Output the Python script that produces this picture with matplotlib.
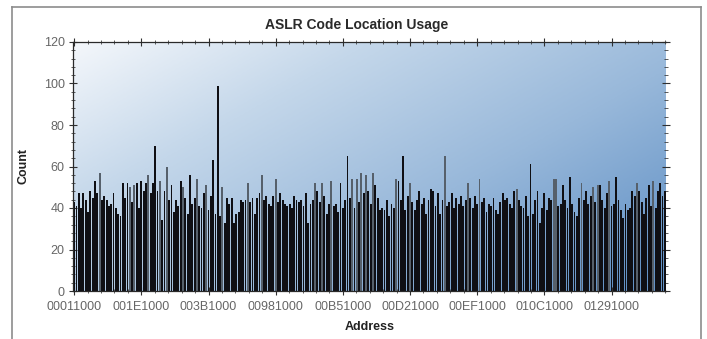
import numpy as np
import matplotlib
matplotlib.use("Agg")
import matplotlib.pyplot as plt
from matplotlib.colors import LinearSegmentedColormap
from matplotlib.lines import Line2D
from matplotlib.ticker import FixedLocator, MultipleLocator

# Hit counts per load address (256 possible 64 KB slots)
counts = [
    43, 41, 47, 40, 47, 44, 38, 48, 45, 53, 47, 57, 44, 46, 44, 41,
    42, 47, 40, 37, 36, 52, 45, 52, 50, 43, 51, 52, 40, 53, 48, 52,
    56, 47, 52, 70, 48, 53, 34, 48, 60, 44, 51, 38, 44, 41, 53, 50,
    45, 37, 56, 42, 45, 54, 41, 40, 47, 51, 39, 46, 63, 37, 99, 36,
    50, 33, 45, 42, 45, 33, 37, 38, 44, 43, 44, 52, 43, 45, 37, 45,
    47, 56, 44, 46, 42, 41, 46, 54, 43, 47, 44, 42, 41, 42, 40, 46,
    44, 43, 44, 41, 47, 33, 42, 44, 52, 48, 43, 52, 46, 37, 42, 53,
    41, 42, 38, 52, 40, 44, 65, 45, 54, 40, 54, 43, 57, 47, 56, 48,
    42, 57, 51, 45, 39, 40, 39, 44, 36, 42, 40, 54, 53, 44, 65, 39,
    46, 52, 43, 39, 44, 48, 42, 45, 37, 44, 49, 48, 41, 47, 37, 44,
    65, 41, 43, 47, 40, 45, 42, 46, 41, 44, 52, 45, 40, 46, 42, 54,
    43, 45, 38, 42, 41, 45, 39, 37, 43, 47, 44, 45, 42, 40, 48, 49,
    44, 41, 40, 46, 36, 61, 37, 44, 48, 33, 40, 47, 39, 45, 44, 54,
    54, 41, 42, 51, 44, 40, 55, 42, 38, 36, 45, 52, 44, 48, 42, 46,
    50, 43, 51, 51, 44, 40, 47, 53, 41, 42, 55, 44, 39, 35, 42, 39,
    40, 48, 46, 52, 48, 43, 37, 45, 51, 41, 53, 40, 48, 52, 46, 48,
]

# Category labels shown on the address axis (one every 29 slots)
tick_labels = ["00011000", "001E1000", "003B1000", "00981000", "00B51000",
               "00D21000", "00EF1000", "010C1000", "01291000"]
label_step = 29

# Slots drawn in the lighter shade
light_bars = [11, 24, 26, 32, 37, 40, 47, 53, 57, 64, 75, 81, 87, 104, 107,
              111, 120, 122, 124, 126, 129, 139, 145, 160, 170, 175, 191,
              207, 208, 219, 224, 226, 231, 243, 250]

plt.rcParams["font.family"] = ["Liberation Sans", "DejaVu Sans"]

W, H = 707, 339
fig = plt.figure(figsize=(W / 100, H / 100), dpi=100)
fig.patch.set_facecolor("white")

ax_l, ax_r, ax_t, ax_b = 73, 666, 42, 291
pos = [ax_l / W, 1 - ax_b / H, (ax_r - ax_l) / W, (ax_b - ax_t) / H]

# Gradient backdrop behind the plot area
bg = fig.add_axes(pos, zorder=0)
gx, gy = np.meshgrid(np.linspace(0, 1, 300), np.linspace(0, 1, 150))
grad = np.clip(0.6 * gx + 0.45 * gy, 0, 1)
cmap = LinearSegmentedColormap.from_list(
    "sky", [(0.0, "#f4f7fb"), (0.3, "#c4d7ea"), (0.65, "#98b8da"), (1.0, "#6392c6")])
bg.imshow(grad, cmap=cmap, vmin=0, vmax=1, aspect="auto", extent=(0, 1, 0, 1),
          origin="upper", interpolation="bilinear")
bg.set_axis_off()

ax = fig.add_axes(pos, zorder=1)
ax.set_facecolor("none")

n = len(counts)
x = np.arange(n)
colors = ["#56606b" if i in light_bars else "#0f0f14" for i in range(n)]
ax.bar(x, counts, width=0.8, color=colors, linewidth=0, zorder=2)

ax.set_xlim(-0.5, n - 0.5)
ax.set_ylim(0, 120)

tick_pos = [i * label_step for i in range(len(tick_labels))]
ax.xaxis.set_major_locator(FixedLocator(tick_pos))
ax.set_xticklabels(tick_labels)
ax.xaxis.set_minor_locator(MultipleLocator(label_step / 5))
ax.yaxis.set_major_locator(MultipleLocator(20))
ax.yaxis.set_minor_locator(MultipleLocator(4))

ax.tick_params(axis="both", which="major", direction="inout", length=6, width=0.8,
               color="#303030", labelsize=9, labelcolor="#666666", pad=3,
               top=True, right=True)
ax.tick_params(axis="both", which="minor", direction="inout", length=3, width=0.6,
               color="#404040", top=True, right=True)
ax.tick_params(axis="x", which="major", pad=4)

for side in ["left", "bottom", "top"]:
    ax.spines[side].set_color("#2a2a2a")
    ax.spines[side].set_linewidth(0.9)
ax.spines["right"].set_visible(False)

ax.set_xlabel("Address", fontsize=9, fontweight="bold", color="#222222", labelpad=6)
ax.set_ylabel("Count", fontsize=9, fontweight="bold", color="#222222", labelpad=10)

fig.text(357 / W, 1 - 25 / H, "ASLR Code Location Usage", ha="center", va="center",
         fontsize=10, fontweight="bold", color="#2a2a2a")

# Outer panel border
frame_kw = dict(color="#8c8c8c", linewidth=1.2, transform=fig.transFigure)
fig.add_artist(Line2D([12 / W, 12 / W], [0, 1 - 7 / H], **frame_kw))
fig.add_artist(Line2D([12 / W, 701 / W], [1 - 7 / H, 1 - 7 / H], **frame_kw))
fig.add_artist(Line2D([701 / W, 701 / W], [0, 1 - 7 / H], **frame_kw))

fig.savefig("out.png", dpi=100)
